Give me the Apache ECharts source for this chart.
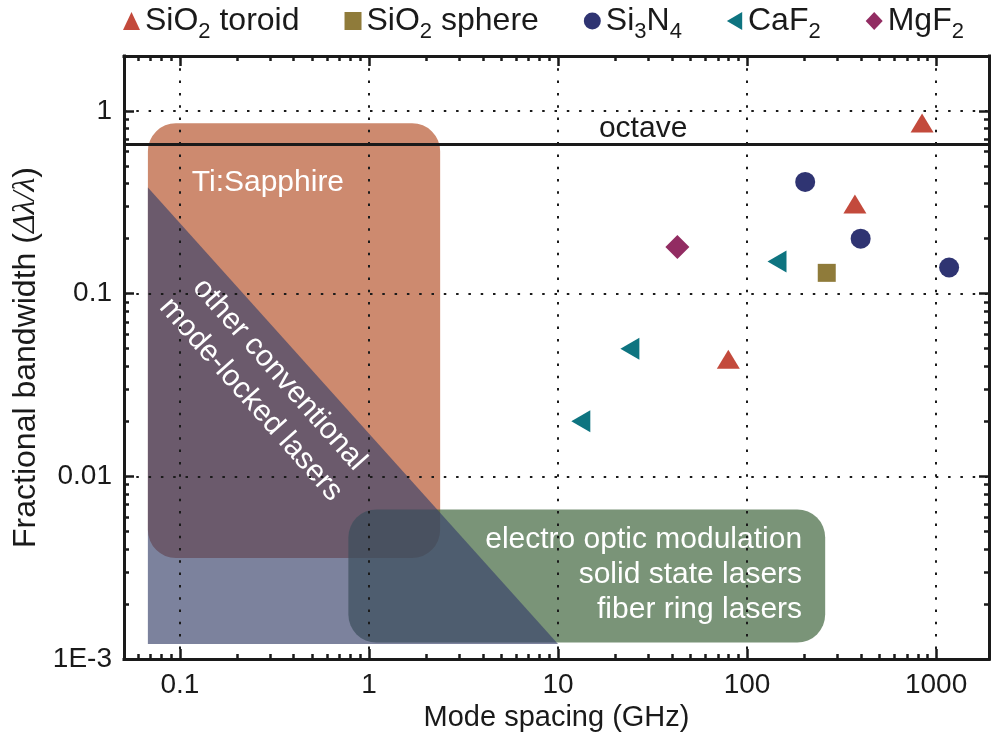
<!DOCTYPE html>
<html>
<head>
<meta charset="utf-8">
<script src="https://cdn.jsdelivr.net/npm/echarts@6/dist/echarts.min.js"></script>
<style>
  html, body { margin: 0; padding: 0; background: #ffffff; }
  #chart { width: 994px; height: 735px; }
</style>
</head>
<body>
<div id="chart"></div>
<script>
const FONT = '"Liberation Sans", Arial, Helvetica, sans-serif';
const INK = '#1a1a1a';
const lg = Math.log10;

// Axis ticks: mode spacing (GHz) and fractional bandwidth
const xTickValues = [0.1, 1, 10, 100, 1000];
const xTickLabels = ['0.1', '1', '10', '100', '1000'];
const yTickValues = [0.001, 0.01, 0.1, 1];
const yTickLabels = ['1E-3', '0.01', '0.1', '1'];
const xRange = [0.0506, 1905];
const yRange = [0.001, 2.0];

// Microresonator combs: [mode spacing (GHz), fractional bandwidth]
const sio2Toroid = [[843, 0.86], [372, 0.31], [79.6, 0.0437]];
const sio2Sphere = [[264, 0.13]];
const si3n4 = [[203, 0.409], [399, 0.2], [1172, 0.139]];
const caf2 = [[144, 0.15], [24.0, 0.05], [13.2, 0.02]];
const mgf2 = [[42.8, 0.18]];

// One octave of span
const octave = 2 / 3;

// Conventional comb sources: boxes as [lower-left, upper-right], triangle as vertices
const tiSapphireBox = [[0.0677, 0.00357], [2.38, 0.857]];
const electroOpticBox = [[0.778, 0.00123], [259, 0.00659]];
const modeLockedTriangle = [[0.0677, 0.381], [0.0677, 0.00121], [10, 0.00121]];

// Captions and where they sit (data coordinates)
const captionText = [
  'Ti:Sapphire',
  'other conventional\nmode-locked lasers',
  'electro optic modulation\nsolid state lasers\nfiber ring lasers',
  'octave'
];
const captionAnchor = [[0.292, 0.407], [0.282, 0.0308], [195.5, 0.00288], [28.2, 0.804]];

function minorTickValues(range) {
  const lo = lg(range[0]), hi = lg(range[1]);
  const out = [];
  for (let d = Math.floor(lo); d <= Math.ceil(hi); d++) {
    for (let k = 2; k <= 9; k++) {
      const v = d + lg(k);
      if (v > lo && v < hi) out.push(v);
    }
  }
  return out;
}

function axisPair(position, range, majors, labels, main, nameOpts) {
  const lo = lg(range[0]), hi = lg(range[1]);
  const majorVals = majors.map(lg);
  const base = { type: 'value', position: position, min: lo, max: hi, z: 3, gridIndex: 0 };
  const major = Object.assign({}, base, {
    axisLine: { show: true, onZero: false, lineStyle: { color: INK, width: 3, cap: 'square' } },
    axisTick: { show: true, inside: true, length: 10, customValues: majorVals,
                lineStyle: { color: INK, width: 2.5 } },
    axisLabel: main ? {
      show: true, customValues: majorVals, margin: 12,
      fontSize: 28, fontFamily: FONT, color: INK,
      formatter: function (v) {
        const i = majorVals.findIndex(function (m) { return Math.abs(m - v) < 1e-6; });
        return i >= 0 ? labels[i] : '';
      }
    } : { show: false },
    splitLine: main ? { show: true, lineStyle: { color: INK, width: 2, type: [2.5, 9.8] } } : { show: false },
    minorTick: { show: false },
    minorSplitLine: { show: false }
  }, nameOpts || {});
  const minor = Object.assign({}, base, {
    axisLine: { show: false, onZero: false },
    axisTick: { show: true, inside: true, length: 5, customValues: minorTickValues(range),
                lineStyle: { color: INK, width: 2.5 } },
    axisLabel: { show: false },
    splitLine: { show: false }
  });
  return [major, minor];
}

const xAxes = axisPair('bottom', xRange, xTickValues, xTickLabels, true, {
  name: 'Mode spacing (GHz)', nameLocation: 'middle', nameGap: 42,
  nameTextStyle: { fontSize: 29, fontFamily: FONT, color: INK }
}).concat(axisPair('top', xRange, xTickValues, xTickLabels, false));

const yAxes = axisPair('left', yRange, yTickValues, yTickLabels, true, {
  name: 'Fractional bandwidth ({i|\u0394\u03bb/\u03bb})', nameLocation: 'middle', nameGap: 80,
  nameTextStyle: {
    fontSize: 32, fontFamily: FONT, color: INK,
    rich: { i: { fontSize: 32, fontStyle: 'italic', fontFamily: '"Liberation Serif", "DejaVu Serif", serif', color: INK } }
  }
}).concat(axisPair('right', yRange, yTickValues, yTickLabels, false));

function pt(p) { return [lg(p[0]), lg(p[1])]; }

function roundedBox(color) {
  return function (params, api) {
    const a = api.coord([api.value(0), api.value(1)]);
    const b = api.coord([api.value(2), api.value(3)]);
    return {
      type: 'rect',
      shape: { x: a[0], y: b[1], width: b[0] - a[0], height: a[1] - b[1], r: 28 },
      style: { fill: color }
    };
  };
}

const captionStyles = [
  { fill: '#ffffff', fontSize: 30, align: 'center', rotation: 0, lineHeight: 36 },
  { fill: '#ffffff', fontSize: 30, align: 'center', rotation: -48.5 * Math.PI / 180, lineHeight: 38 },
  { fill: '#ffffff', fontSize: 30, align: 'right', rotation: 0, lineHeight: 35 },
  { fill: INK, fontSize: 30, align: 'center', rotation: 0, lineHeight: 34 }
];

function scatter(name, data, symbol, size, color) {
  return {
    type: 'scatter', name: name, z: 6,
    xAxisIndex: 0, yAxisIndex: 0,
    symbol: symbol, symbolSize: size,
    itemStyle: { color: color, opacity: 1 },
    data: data.map(pt)
  };
}

const leftTriangle = 'path://M0,10 L17,0 L17,20 Z';

const option = {
  animation: false,
  backgroundColor: '#ffffff',
  grid: { left: 124, right: 5, top: 56, bottom: 76, containLabel: false, outerBoundsMode: 'none' },
  legend: {
    top: 0, left: 118, itemGap: 45, itemWidth: 17, itemHeight: 18,
    data: ['SiO2 toroid', 'SiO2 sphere', 'Si3N4', 'CaF2', 'MgF2'],
    formatter: function (name) { return name.replace(/(\d)/g, '{s|$1}'); },
    textStyle: {
      fontSize: 32, fontFamily: FONT, color: INK,
      rich: { s: { fontSize: 22, fontFamily: FONT, color: INK, padding: [22, 0, 0, 0] } }
    }
  },
  xAxis: xAxes,
  yAxis: yAxes,
  series: [
    {
      type: 'custom', name: 'Ti:Sapphire', z: 1, silent: true,
      renderItem: roundedBox('#cd8a6f'),
      encode: { x: [0, 2], y: [1, 3] },
      data: [pt(tiSapphireBox[0]).concat(pt(tiSapphireBox[1]))]
    },
    {
      type: 'custom', name: 'electro optic', z: 1, silent: true,
      renderItem: roundedBox('rgba(65,102,62,0.7)'),
      encode: { x: [0, 2], y: [1, 3] },
      data: [pt(electroOpticBox[0]).concat(pt(electroOpticBox[1]))]
    },
    {
      type: 'custom', name: 'mode-locked', z: 1, silent: true,
      renderItem: function (params, api) {
        const pts = [];
        for (let k = 0; k < 3; k++) pts.push(api.coord([api.value(2 * k), api.value(2 * k + 1)]));
        return { type: 'polygon', shape: { points: pts }, style: { fill: 'rgba(56,66,106,0.66)' } };
      },
      encode: { x: [0, 2, 4], y: [1, 3, 5] },
      data: [[].concat(pt(modeLockedTriangle[0]), pt(modeLockedTriangle[1]), pt(modeLockedTriangle[2]))]
    },
    {
      type: 'custom', name: 'captions', z: 2, silent: true,
      renderItem: function (params, api) {
        const i = api.value(2);
        const p = api.coord([api.value(0), api.value(1)]);
        const s = captionStyles[i];
        return {
          type: 'text', x: p[0], y: p[1], rotation: s.rotation,
          style: {
            text: captionText[i], fill: s.fill, fontSize: s.fontSize, fontFamily: FONT,
            align: s.align, verticalAlign: 'middle', lineHeight: s.lineHeight
          }
        };
      },
      encode: { x: 0, y: 1 },
      data: captionAnchor.map(function (p, i) { return pt(p).concat([i]); })
    },
    {
      type: 'line', name: 'octave', z: 2, data: [],
      markLine: {
        silent: true, symbol: 'none', label: { show: false },
        lineStyle: { color: INK, width: 3, type: 'solid' },
        data: [{ yAxis: lg(octave) }]
      }
    },
    scatter('SiO2 toroid', sio2Toroid, 'triangle', [23, 19], '#c34a3c'),
    scatter('SiO2 sphere', sio2Sphere, 'rect', [18, 18], '#8f7b3a'),
    scatter('Si3N4', si3n4, 'circle', 20, '#2f3472'),
    scatter('CaF2', caf2, leftTriangle, [19, 22], '#0e7480'),
    scatter('MgF2', mgf2, 'diamond', [24, 24], '#922c62')
  ]
};

const chart = echarts.init(document.getElementById('chart'), null, { renderer: 'canvas' });
chart.setOption(option);
</script>
</body>
</html>
